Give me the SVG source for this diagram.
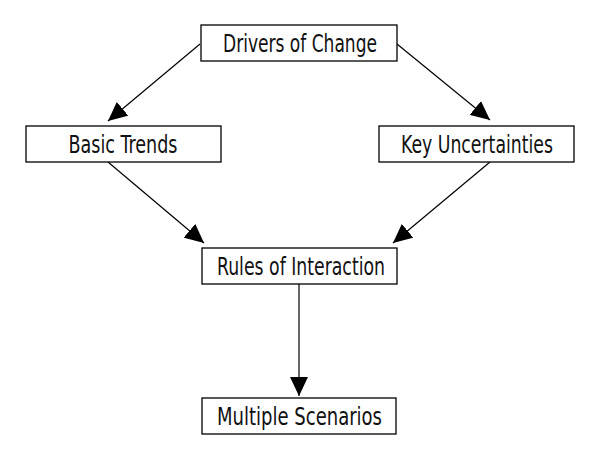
<svg xmlns="http://www.w3.org/2000/svg" width="600" height="460" viewBox="0 0 600 460">
<style>
.box{fill:#fff;stroke:#000;stroke-width:1.3}
.lbl{font-family:"DejaVu Sans Condensed","DejaVu Sans",sans-serif;font-stretch:condensed;font-size:24px;fill:#111;text-anchor:middle}
.con{stroke:#000;stroke-width:1.2;fill:none}
</style>
<defs>
<marker id="ah" markerUnits="userSpaceOnUse" markerWidth="20" markerHeight="18" refX="19" refY="9" orient="auto">
<path d="M0,0 L19,9 L0,18 Z" fill="#000"/>
</marker>
</defs>
<rect width="600" height="460" fill="#fff"/>
<g id="connectors">
<line class="con" x1="200" y1="44" x2="108" y2="121" marker-end="url(#ah)"/>
<line class="con" x1="397" y1="44" x2="490" y2="120" marker-end="url(#ah)"/>
<line class="con" x1="108" y1="162" x2="204" y2="243" marker-end="url(#ah)"/>
<line class="con" x1="490" y1="162" x2="393" y2="243" marker-end="url(#ah)"/>
<line class="con" x1="299" y1="284" x2="299" y2="396" marker-end="url(#ah)"/>
</g>
<g id="drivers">
<rect class="box" x="201" y="25" width="196" height="36"/>
<text class="lbl" x="300" y="51.5" textLength="154" lengthAdjust="spacingAndGlyphs">Drivers of Change</text>
</g>
<g id="trends">
<rect class="box" x="26" y="126" width="195" height="36"/>
<text class="lbl" x="123" y="152.5" textLength="109" lengthAdjust="spacingAndGlyphs">Basic Trends</text>
</g>
<g id="uncertainties">
<rect class="box" x="379" y="126" width="195" height="36"/>
<text class="lbl" x="477" y="152.5" textLength="152" lengthAdjust="spacingAndGlyphs">Key Uncertainties</text>
</g>
<g id="rules">
<rect class="box" x="202" y="248" width="195" height="36"/>
<text class="lbl" x="301" y="274.5" textLength="168" lengthAdjust="spacingAndGlyphs">Rules of Interaction</text>
</g>
<g id="scenarios">
<rect class="box" x="202" y="398" width="194" height="36"/>
<text class="lbl" x="299.5" y="424.5" textLength="165" lengthAdjust="spacingAndGlyphs">Multiple Scenarios</text>
</g>
</svg>
